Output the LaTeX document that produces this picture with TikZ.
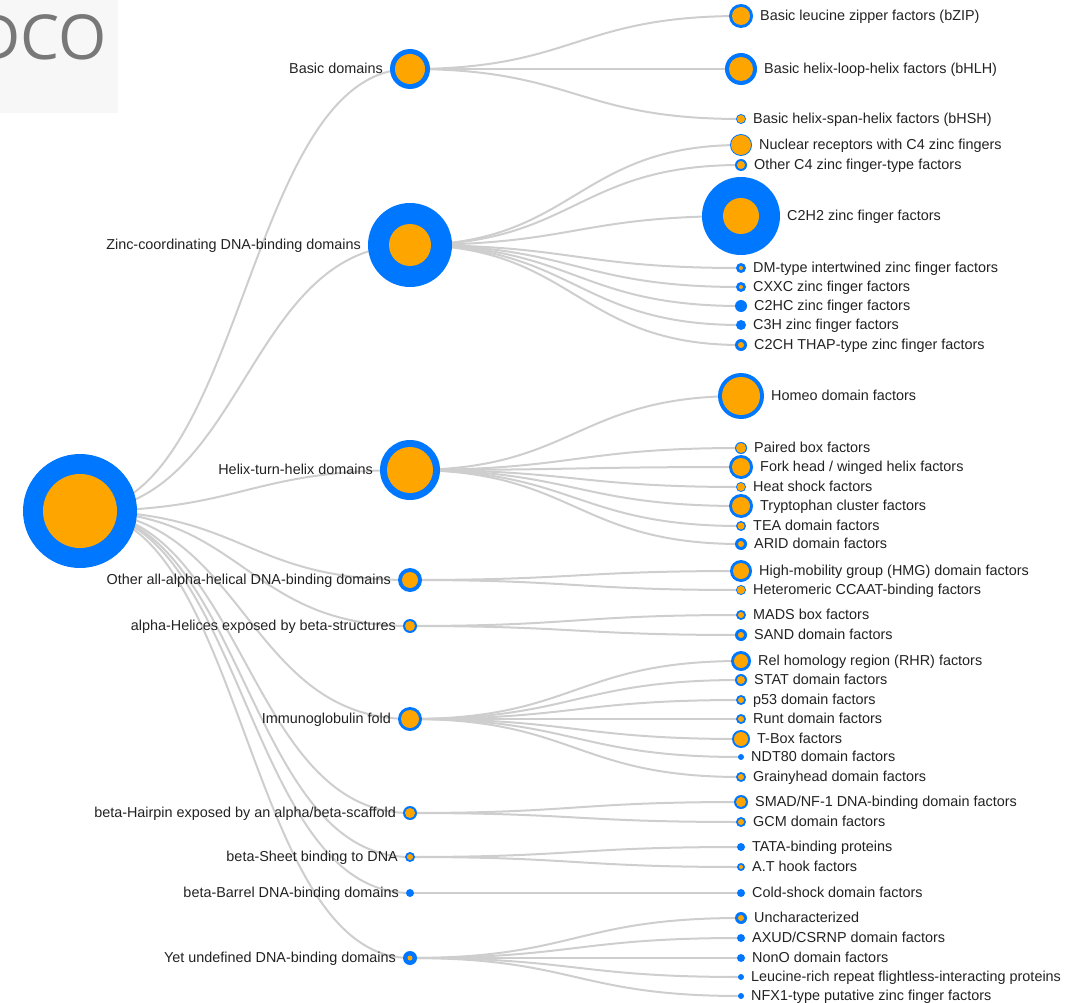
\documentclass[tikz,border=0pt]{standalone}
\usepackage{fontspec}
\setmainfont{Liberation Sans}
\newfontfamily\logofont{Open Sans}
\usetikzlibrary{positioning}
\pgfdeclarelayer{background}
\pgfsetlayers{background,main}
\definecolor{tfblue}{RGB}{0,119,255}
\definecolor{tforange}{RGB}{255,165,0}
\definecolor{linkgray}{RGB}{206,206,206}
\definecolor{txtgray}{RGB}{34,34,34}
\definecolor{logogray}{RGB}{120,120,120}
\definecolor{logobg}{RGB}{247,247,247}

\begin{document}
\begin{tikzpicture}[
  x=1pt, y=-1pt,
  node distance=7pt,
  tf/.style 2 args={circle, fill=tfblue, inner sep=0pt, outer sep=0pt,
                    minimum size=2*#1pt,
                    path picture={\fill[tforange] (path picture bounding box.center) circle (#2pt);}},
  lbl/.style={inner sep=0pt, text height=.85em, text depth=0pt, text=txtgray,
              font=\fontsize{14.4}{17}\selectfont},
  link/.style={draw=linkgray, line width=2pt}
]
  \useasboundingbox (0,0) rectangle (1068,1003);
  \begin{scope}
    \clip (0,0) rectangle (118,113);
    \fill[logobg] (0,0) rectangle (118,113);
    \node[anchor=base east, inner sep=0pt, text=logogray,
          font=\logofont\fontsize{62}{62}\selectfont] (logo) at (107,60) {DCO};
  \end{scope}

  \node[tf={57}{37}] (root) at (80,511) {};

  \node[tf={20}{15}] (basic) at (410,69) {};
  \node[tf={42}{21}] (zinc) at (410,245) {};
  \node[tf={30}{23}] (hth) at (410,470) {};
  \node[tf={12}{8}] (allalpha) at (410,580) {};
  \node[tf={7}{5}] (helices) at (410,626) {};
  \node[tf={12}{9}] (igfold) at (410,719) {};
  \node[tf={7}{5}] (hairpin) at (410,813) {};
  \node[tf={5}{3}] (sheet) at (410,857) {};
  \node[tf={4}{0}] (barrel) at (410,893) {};
  \node[tf={7}{2.5}] (undef) at (410,958) {};

  \node[lbl, left=of basic] (basic-l) {Basic domains};
  \node[lbl, left=of zinc] (zinc-l) {Zinc-coordinating DNA-binding domains};
  \node[lbl, left=of hth] (hth-l) {Helix-turn-helix domains};
  \node[lbl, left=of allalpha] (allalpha-l) {Other all-alpha-helical DNA-binding domains};
  \node[lbl, left=of helices] (helices-l) {alpha-Helices exposed by beta-structures};
  \node[lbl, left=of igfold] (igfold-l) {Immunoglobulin fold};
  \node[lbl, left=of hairpin] (hairpin-l) {beta-Hairpin exposed by an alpha/beta-scaffold};
  \node[lbl, left=of sheet] (sheet-l) {beta-Sheet binding to DNA};
  \node[lbl, left=of barrel] (barrel-l) {beta-Barrel DNA-binding domains};
  \node[lbl, left=of undef] (undef-l) {Yet undefined DNA-binding domains};

  \foreach \n/\y/\R/\r/\t in {
      bzip/16/12/9/{Basic leucine zipper factors (bZIP)},
      bhlh/69/16/12/{Basic helix-loop-helix factors (bHLH)},
      bhsh/119/5/4/{Basic helix-span-helix factors (bHSH)},
      nr/145/11/10/{Nuclear receptors with C4 zinc fingers},
      oc4/165/6/4/{Other C4 zinc finger-type factors},
      c2h2/216/39/18/{C2H2 zinc finger factors},
      dm/268/5/2/{DM-type intertwined zinc finger factors},
      cxxc/287/5/2/{CXXC zinc finger factors},
      c2hc/306/6/0/{C2HC zinc finger factors},
      c3h/325/5/0/{C3H zinc finger factors},
      thap/345/6/3/{C2CH THAP-type zinc finger factors},
      homeo/396/23/19/{Homeo domain factors},
      paired/448/6/5/{Paired box factors},
      fork/467/12/9/{Fork head / winged helix factors},
      heat/487/5/4/{Heat shock factors},
      trp/506/12/9/{Tryptophan cluster factors},
      tea/526/5/3.5/{TEA domain factors},
      arid/544/6/3/{ARID domain factors},
      hmg/571/11/8/{High-mobility group (HMG) domain factors},
      ccaat/590/5/4/{Heteromeric CCAAT-binding factors},
      mads/615/5/3/{MADS box factors},
      sand/635/6/3/{SAND domain factors},
      rhr/661/10/7/{Rel homology region (RHR) factors},
      stat/680/6/4/{STAT domain factors},
      p53/700/5/3/{p53 domain factors},
      runt/719/5/3/{Runt domain factors},
      tbox/739/9/7/{T-Box factors},
      ndt/757/3/0/{NDT80 domain factors},
      grh/777/5/3/{Grainyhead domain factors},
      smad/802/7/5/{SMAD/NF-1 DNA-binding domain factors},
      gcm/822/5/3/{GCM domain factors},
      tata/847/4/0/{TATA-binding proteins},
      athook/867/4/2/{A.T hook factors},
      cold/893/4/0/{Cold-shock domain factors},
      unch/918/6/3/{Uncharacterized},
      axud/938/4/0/{AXUD/CSRNP domain factors},
      nono/958/4/0/{NonO domain factors},
      lrr/977/3/0/{Leucine-rich repeat flightless-interacting proteins},
      nfx/996/3/0/{NFX1-type putative zinc finger factors}} {
    \node[tf={\R}{\r}] (\n) at (741,\y) {};
    \node[lbl, right=of \n] (\n-l) {\t};
  }

  \begin{pgfonlayer}{background}
    \foreach \a/\b in {root/basic, root/zinc, root/hth, root/allalpha, root/helices,
        root/igfold, root/hairpin, root/sheet, root/barrel, root/undef,
        basic/bzip, basic/bhlh, basic/bhsh,
        zinc/nr, zinc/oc4, zinc/c2h2, zinc/dm, zinc/cxxc, zinc/c2hc, zinc/c3h, zinc/thap,
        hth/homeo, hth/paired, hth/fork, hth/heat, hth/trp, hth/tea, hth/arid,
        allalpha/hmg, allalpha/ccaat, helices/mads, helices/sand,
        igfold/rhr, igfold/stat, igfold/p53, igfold/runt, igfold/tbox, igfold/ndt, igfold/grh,
        hairpin/smad, hairpin/gcm, sheet/tata, sheet/athook, barrel/cold,
        undef/unch, undef/axud, undef/nono, undef/lrr, undef/nfx}
      \draw[link] (\a.center) .. controls +(165,0) and +(-165,0) .. (\b.center);
  \end{pgfonlayer}
\end{tikzpicture}
\end{document}
